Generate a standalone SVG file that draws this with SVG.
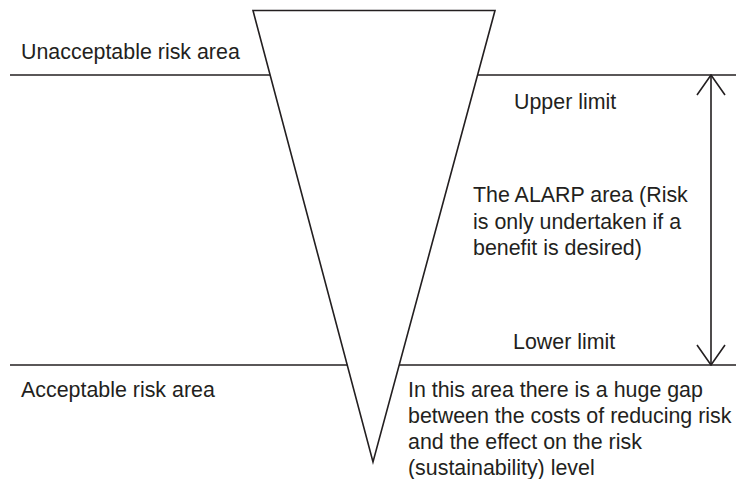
<svg xmlns="http://www.w3.org/2000/svg" width="736" height="479" viewBox="0 0 736 479">
  <style>
    .ln { stroke: #231f20; stroke-width: 1.6; fill: none; stroke-linejoin: miter; }
    .tx { font-family: "Liberation Sans", Arial, sans-serif; font-size: 21.4px; fill: #231f20; }
  </style>
  <defs>
    <!-- open V arrowhead, tip at the path end -->
    <marker id="openV" viewBox="0 0 22 30" refX="21" refY="15" markerWidth="22" markerHeight="30" markerUnits="userSpaceOnUse" orient="auto-start-reverse">
      <path d="M1,1 L21,15 L1,29" fill="none" stroke="#231f20" stroke-width="1.6"/>
    </marker>
  </defs>
  <rect width="736" height="479" fill="#ffffff"/>

  <!-- risk funnel -->
  <g id="funnel">
    <polygon class="ln" points="253,10.5 495,10.5 373,462"/>
  </g>

  <!-- upper limit boundary -->
  <g id="upper-boundary">
    <line class="ln" x1="10" y1="75" x2="270" y2="75"/>
    <line class="ln" x1="477.5" y1="75" x2="736" y2="75"/>
  </g>

  <!-- lower limit boundary -->
  <g id="lower-boundary">
    <line class="ln" x1="10" y1="365" x2="347.5" y2="365"/>
    <line class="ln" x1="399" y1="365" x2="736" y2="365"/>
  </g>

  <!-- ALARP span arrow -->
  <g id="connectors">
    <line class="ln" x1="711" y1="75" x2="711" y2="365" marker-start="url(#openV)" marker-end="url(#openV)"/>
  </g>

  <g id="unacceptable-label">
    <text class="tx" x="21" y="59">Unacceptable risk area</text>
  </g>
  <g id="upper-limit-label">
    <text class="tx" x="514" y="109">Upper limit</text>
  </g>
  <g id="alarp-label">
    <text class="tx" x="473" y="202">The ALARP area (Risk</text>
    <text class="tx" x="473" y="228.5">is only undertaken if a</text>
    <text class="tx" x="473" y="255">benefit is desired)</text>
  </g>
  <g id="lower-limit-label">
    <text class="tx" x="513" y="349">Lower limit</text>
  </g>
  <g id="acceptable-label">
    <text class="tx" x="21" y="397">Acceptable risk area</text>
  </g>
  <g id="gap-note">
    <text class="tx" x="408" y="397">In this area there is a huge gap</text>
    <text class="tx" x="408" y="423">between the costs of reducing risk</text>
    <text class="tx" x="408" y="449">and the effect on the risk</text>
    <text class="tx" x="408" y="475">(sustainability) level</text>
  </g>
</svg>
